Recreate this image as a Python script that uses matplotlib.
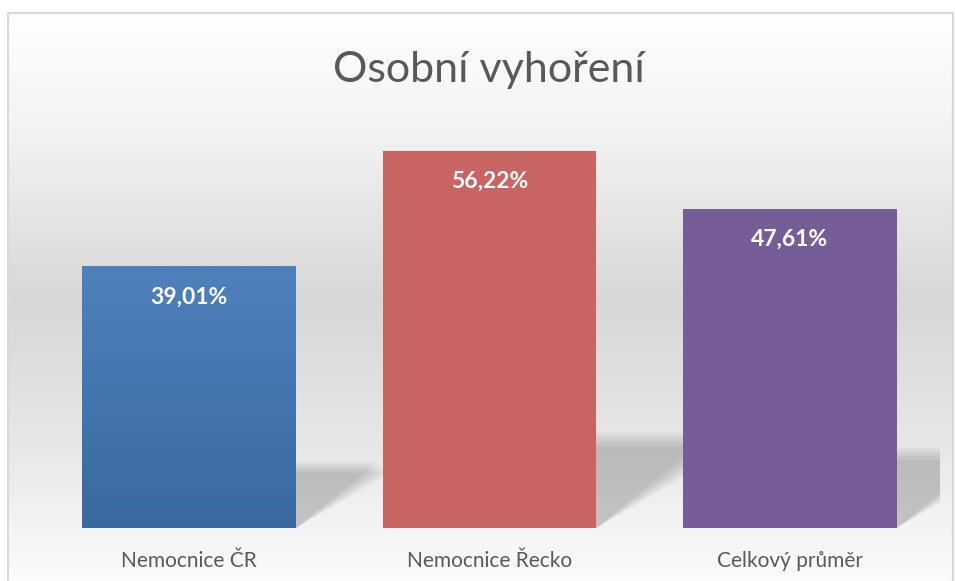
import numpy as np
import matplotlib
matplotlib.use("Agg")
import matplotlib.pyplot as plt
from matplotlib.patches import Rectangle, Polygon
import matplotlib.transforms as mtransforms

plt.rcParams['font.family'] = ['Lato', 'DejaVu Sans']

# data
categories = ["Nemocnice ČR", "Nemocnice Řecko", "Celkový průměr"]
values = [39.01, 56.22, 47.61]
value_labels = ["39,01%", "56,22%", "47,61%"]
bar_colors = ["#4a7cb8", "#c86462", "#775d98"]
title = "Osobní vyhoření"

W, H = 955, 581
fig = plt.figure(figsize=(W / 100, H / 100), dpi=100)

# background: frame with vertical grey gradient
bg = fig.add_axes([0, 0, 1, 1])
bg.set_xlim(0, W)
bg.set_ylim(H, 0)
bg.axis("off")
ys = np.arange(13, H)
stops_y = [13, 130, 300, 450, 581]
stops_c = [255, 243, 215, 232, 252]
col = np.interp(ys, stops_y, stops_c) / 255.0
grad = np.repeat(col[:, None], 3, axis=1)[:, None, :]
bg.imshow(grad, extent=(8, 953, H, 13), aspect="auto", interpolation="bilinear", zorder=0)
bg.add_patch(Rectangle((8, 13), 945, 600, fill=False, edgecolor="#d9d9d9", lw=1.5, zorder=1))

fig.text(489 / W, 1 - 82 / H, title, ha="center", va="baseline",
         fontsize=31, color="#595959", fontweight="normal")

# plot area
ax = fig.add_axes([39 / W, 53 / H, 901 / W, 402.6 / H])
ax.set_facecolor("none")
ax.set_xlim(-0.5, 2.5)
ax.set_ylim(0, 60)
for s in ax.spines.values():
    s.set_visible(False)
ax.set_xticks([])
ax.set_yticks([])

x = np.arange(len(categories))
width = 0.712
px_per_y = 402.6 / 60
px_per_x = 901 / 3

# soft cast shadows behind the bars
for xi, v in zip(x, values):
    for k in range(10):
        h = v * 0.24 * (0.88 + 0.02 * k)
        dx = v * 0.24 * px_per_y / 0.72 / px_per_x * (1.1 - 0.02 * k)
        pts = [(xi - width / 2, 0), (xi + width / 2, 0),
               (xi + width / 2 + dx, h), (xi - width / 2 + dx, h)]
        ax.add_patch(Polygon(pts, closed=True, facecolor="black", alpha=0.019,
                             edgecolor="none", zorder=1))

bars = ax.bar(x, values, width=width, color=bar_colors, zorder=2)

# gradient on the first bar
b = bars[0]
g = np.linspace(0, 1, 256)[:, None]
top = np.array([0x4f, 0x81, 0xbd]) / 255
bot = np.array([0x3b, 0x68, 0xa0]) / 255
img = top[None, None, :] * (1 - g[:, :, None]) + bot[None, None, :] * g[:, :, None]
im = ax.imshow(img, extent=(b.get_x(), b.get_x() + b.get_width(), 0, b.get_height()),
               aspect="auto", zorder=3, interpolation="bilinear")
im.set_clip_path(b)

for xi, v, lab in zip(x, values, value_labels):
    ax.text(xi, v - 37 / px_per_y, lab, ha="center", va="baseline",
            fontsize=16.5, fontweight="bold", color="white", zorder=5)

trans = mtransforms.blended_transform_factory(ax.transData, ax.transAxes)
for xi, cat in zip(x, categories):
    ax.text(xi, -39 / 402.6, cat, transform=trans, ha="center", va="baseline",
            fontsize=15, color="#595959")

fig.savefig("out.png", dpi=100)
